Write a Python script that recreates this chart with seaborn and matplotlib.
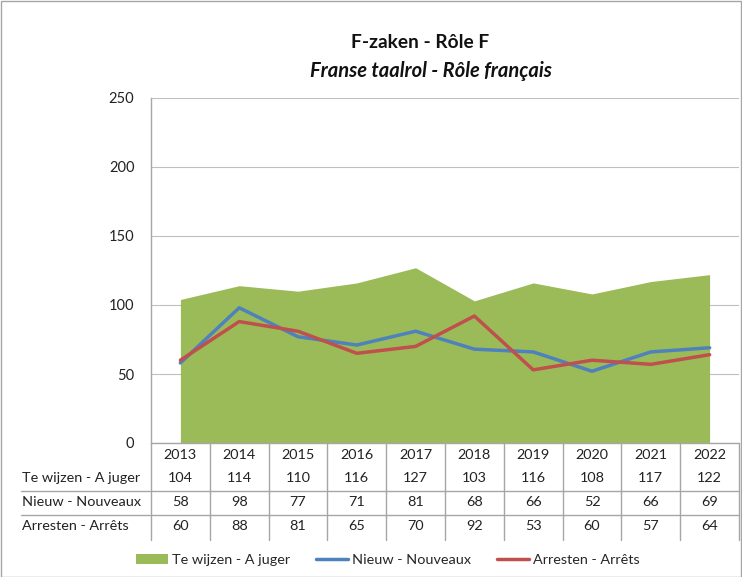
import matplotlib
matplotlib.use("Agg")
import matplotlib.pyplot as plt
import matplotlib.transforms as mtransforms
from matplotlib.patches import Patch, Rectangle
from matplotlib.lines import Line2D
import seaborn as sns
import pandas as pd

years = ["2013", "2014", "2015", "2016", "2017", "2018", "2019", "2020", "2021", "2022"]
te_wijzen = [104, 114, 110, 116, 127, 103, 116, 108, 117, 122]
nieuw = [58, 98, 77, 71, 81, 68, 66, 52, 66, 69]
arresten = [60, 88, 81, 65, 70, 92, 53, 60, 57, 64]
row_labels = ["Te wijzen - A juger", "Nieuw - Nouveaux", "Arresten - Arrêts"]

sns.set_theme(style="white")
plt.rcParams["font.family"] = ["Lato", "DejaVu Sans"]

GREEN = "#9BBB59"
BLUE = "#4F81BD"
RED = "#C0504D"

W, H = 742, 577
fig = plt.figure(figsize=(W / 100, H / 100), dpi=100)
ax = fig.add_axes([151 / W, 1 - 443 / H, 588 / W, 345 / H])

x = list(range(len(years)))
df = pd.DataFrame({"x": x, "te": te_wijzen, "nieuw": nieuw, "arr": arresten})

ax.fill_between(df["x"], 0, df["te"], color=GREEN, linewidth=0, zorder=2)
sns.lineplot(data=df, x="x", y="nieuw", ax=ax, color=BLUE, linewidth=2.5, zorder=3)
sns.lineplot(data=df, x="x", y="arr", ax=ax, color=RED, linewidth=2.5, zorder=4)

ax.set_xlim(-0.5, len(years) - 0.5)
ax.set_ylim(0, 250)
ax.set_yticks([0, 50, 100, 150, 200, 250])
ax.set_xticks([])
ax.set_xlabel("")
ax.set_ylabel("")
ax.tick_params(axis="y", labelsize=10.5, colors="#222222", pad=12, length=0)
ax.grid(axis="y", color="#BFBFBF", linewidth=0.8, zorder=0)
ax.set_axisbelow(True)
for s in ["top", "right"]:
    ax.spines[s].set_visible(False)
for s in ["left", "bottom"]:
    ax.spines[s].set_color("#A6A6A6")
    ax.spines[s].set_linewidth(1)

trans = mtransforms.blended_transform_factory(ax.transData, ax.transAxes)

def yf(p):
    return (443 - p) / 345.0

# vertical separators
for i in range(len(years) + 1):
    ax.plot([i - 0.5, i - 0.5], [0, yf(540)], transform=trans, color="#A6A6A6",
            linewidth=1, clip_on=False)
# horizontal separators
x_left = -0.5 + (21 - 151) / 58.8
for p in [491, 515]:
    ax.plot([x_left, len(years) - 0.5], [yf(p), yf(p)], transform=trans,
            color="#A6A6A6", linewidth=1, clip_on=False)

fs = 10.4
for i, yr in enumerate(years):
    ax.text(i, yf(455), yr, transform=trans, ha="center", va="center", fontsize=fs, color="#222222")
rows = [te_wijzen, nieuw, arresten]
row_y = [478, 502, 526]
for r, (lab, vals, py) in enumerate(zip(row_labels, rows, row_y)):
    ax.text(x_left + 0.02, yf(py), lab, transform=trans, ha="left", va="center",
            fontsize=fs, color="#222222")
    for i, v in enumerate(vals):
        ax.text(i, yf(py), str(v), transform=trans, ha="center", va="center",
                fontsize=fs, color="#222222")

fig.text(420 / W, 1 - 43 / H, "F-zaken - Rôle F", ha="center", va="center",
         fontsize=13.8, fontweight="bold", color="#111111")
fig.text(431 / W, 1 - 71 / H, "Franse taalrol - Rôle français", ha="center", va="center",
         fontsize=14.5, fontweight="bold", fontstyle="italic", color="#111111")

handles = [Patch(facecolor=GREEN, edgecolor="none"),
           Line2D([0], [0], color=BLUE, linewidth=2.5),
           Line2D([0], [0], color=RED, linewidth=2.5)]
fig.legend(handles, row_labels, loc="center", bbox_to_anchor=(0.523, 1 - 560 / H),
           ncol=3, frameon=False, fontsize=fs, handlelength=2.2, handletextpad=0.3,
           columnspacing=1.8)

fig.patches.append(Rectangle((0.5 / W, 0.5 / H), 1 - 1.5 / W, 1 - 1.5 / H,
                             transform=fig.transFigure, fill=False,
                             edgecolor="#A6A6A6", linewidth=1))

fig.savefig("out.png", dpi=100)
